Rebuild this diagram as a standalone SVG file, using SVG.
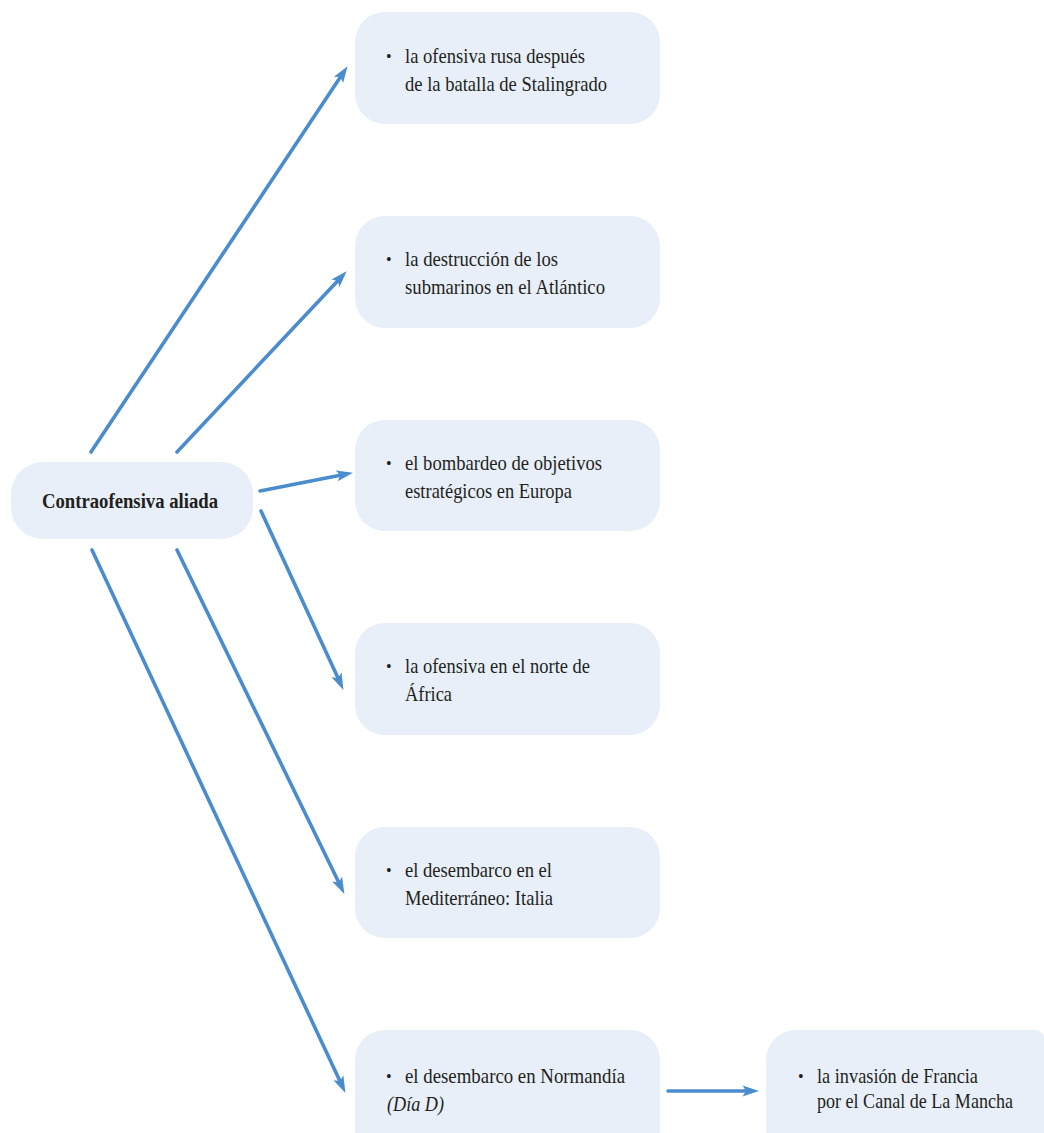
<svg xmlns="http://www.w3.org/2000/svg" width="1044" height="1133" viewBox="0 0 1044 1133">
<style>
.box{fill:#e8eff8}
.t{font-family:"Liberation Serif","Times New Roman",serif;font-size:22px;fill:#231f20}
.b{font-family:"Liberation Serif","Times New Roman",serif;font-size:16px;fill:#231f20}
.main{font-family:"Liberation Serif","Times New Roman",serif;font-size:20px;font-weight:bold;fill:#231f20}
.c{stroke:#4a8ccd;stroke-width:3.6;stroke-linecap:round;fill:none}
</style>
<defs>
<marker id="ah" markerUnits="userSpaceOnUse" markerWidth="20" markerHeight="14" viewBox="-5 -7 20 14" refX="0" refY="0" orient="auto">
<path d="M13,0 L-3.5,-5.5 L0,0 L-3.5,5.5 Z" fill="#4a8ccd"/>
</marker>
</defs>
<rect width="1044" height="1133" fill="#ffffff"/>
<g id="connectors">
<line class="c" x1="91" y1="452" x2="340.4" y2="77" marker-end="url(#ah)"/>
<line class="c" x1="177" y1="452" x2="337.8" y2="280.7" marker-end="url(#ah)"/>
<line class="c" x1="260" y1="491" x2="340.2" y2="475.3" marker-end="url(#ah)"/>
<line class="c" x1="261" y1="511" x2="338" y2="678.1" marker-end="url(#ah)"/>
<line class="c" x1="177" y1="550" x2="338.7" y2="882.2" marker-end="url(#ah)"/>
<line class="c" x1="92" y1="550" x2="339.9" y2="1081.1" marker-end="url(#ah)"/>
<line class="c" x1="668" y1="1091" x2="746" y2="1091" marker-end="url(#ah)"/>
</g>
<g id="main">
<rect class="box" x="11" y="462" width="242" height="77" rx="32"/>
<text class="main" x="42" y="508" textLength="176" lengthAdjust="spacingAndGlyphs">Contraofensiva aliada</text>
</g>
<g id="n1">
<rect class="box" x="355" y="12" width="305" height="112" rx="30"/>
<text class="b" x="386" y="62">•</text>
<text class="t" x="405" y="63" textLength="180" lengthAdjust="spacingAndGlyphs">la ofensiva rusa después</text>
<text class="t" x="405" y="91" textLength="202" lengthAdjust="spacingAndGlyphs">de la batalla de Stalingrado</text>
</g>
<g id="n2">
<rect class="box" x="355" y="216" width="305" height="112" rx="30"/>
<text class="b" x="386" y="265">•</text>
<text class="t" x="405" y="266" textLength="153" lengthAdjust="spacingAndGlyphs">la destrucción de los</text>
<text class="t" x="405" y="294" textLength="200" lengthAdjust="spacingAndGlyphs">submarinos en el Atlántico</text>
</g>
<g id="n3">
<rect class="box" x="355" y="420" width="305" height="111" rx="30"/>
<text class="b" x="386" y="469">•</text>
<text class="t" x="405" y="470" textLength="197" lengthAdjust="spacingAndGlyphs">el bombardeo de objetivos</text>
<text class="t" x="405" y="498" textLength="167" lengthAdjust="spacingAndGlyphs">estratégicos en Europa</text>
</g>
<g id="n4">
<rect class="box" x="355" y="623" width="305" height="112" rx="30"/>
<text class="b" x="386" y="672">•</text>
<text class="t" x="405" y="673" textLength="185" lengthAdjust="spacingAndGlyphs">la ofensiva en el norte de</text>
<text class="t" x="405" y="701" textLength="47" lengthAdjust="spacingAndGlyphs">África</text>
</g>
<g id="n5">
<rect class="box" x="355" y="827" width="305" height="111" rx="30"/>
<text class="b" x="386" y="876">•</text>
<text class="t" x="405" y="877" textLength="147" lengthAdjust="spacingAndGlyphs">el desembarco en el</text>
<text class="t" x="405" y="905" textLength="148" lengthAdjust="spacingAndGlyphs">Mediterráneo: Italia</text>
</g>
<g id="n6">
<path class="box" d="M355,1133 V1060 A30,30 0 0 1 385,1030 H630 A30,30 0 0 1 660,1060 V1133 Z"/>
<text class="b" x="386" y="1082">•</text>
<text class="t" x="405" y="1083" textLength="220" lengthAdjust="spacingAndGlyphs">el desembarco en Normandía</text>
<text class="t" x="387" y="1111" font-style="italic" textLength="57" lengthAdjust="spacingAndGlyphs">(Día D)</text>
</g>
<g id="n7">
<path class="box" d="M766,1133 V1060 A30,30 0 0 1 796,1030 H1032 A12,12 0 0 1 1044,1036 V1133 Z"/>
<text class="b" x="798" y="1082">•</text>
<text class="t" x="817" y="1083" textLength="161" lengthAdjust="spacingAndGlyphs">la invasión de Francia</text>
<text class="t" x="817" y="1108" textLength="196" lengthAdjust="spacingAndGlyphs">por el Canal de La Mancha</text>
</g>
</svg>
